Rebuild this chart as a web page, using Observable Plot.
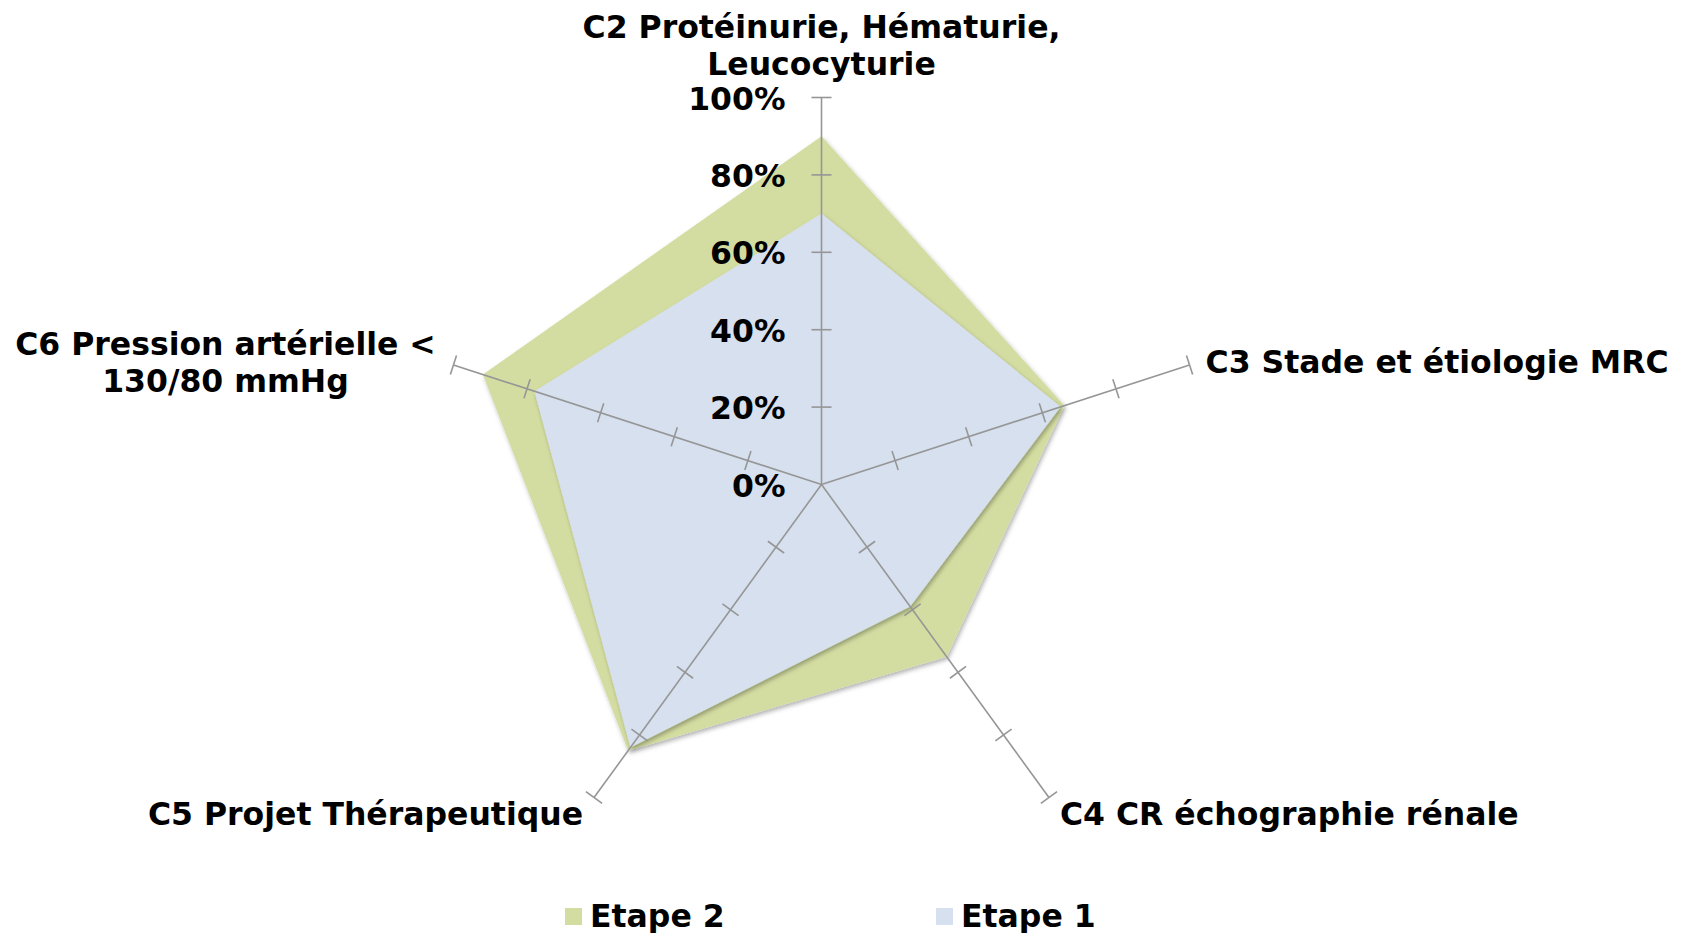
<!DOCTYPE html>
<html>
<head>
<meta charset="utf-8">
<script src="https://cdn.jsdelivr.net/npm/d3@7"></script>
<script src="https://cdn.jsdelivr.net/npm/@observablehq/plot@0.6"></script>
<style>
  html, body { margin: 0; padding: 0; background: #fff; }
  body { width: 1682px; height: 933px; overflow: hidden; font-family: "DejaVu Sans", Verdana, sans-serif; }
  #legend { position: relative; height: 63px; width: 1682px; font-weight: bold; font-size: 31.5px; color: #000; }
  .item { position: absolute; top: 28px; display: flex; align-items: center; }
  .sw { width: 17px; height: 17px; margin-right: 8px; }
</style>
</head>
<body>
<div id="chart"></div>
<div id="legend"></div>
<script>
// ---- data ----
const categories = [
  "C2 Protéinurie, Hématurie,\nLeucocyturie",
  "C3 Stade et étiologie MRC",
  "C4 CR échographie rénale",
  "C5 Projet Thérapeutique",
  "C6 Pression artérielle <\n130/80 mmHg"
];
const etape2 = [0.90, 0.66, 0.55, 0.85, 0.92];
const etape1 = [0.70, 0.65, 0.39, 0.84, 0.78];
const seriesNames = ["Etape 2", "Etape 1"];
const seriesColors = ["#d4dda1", "#d6e0ee"];
const tickValues = [0, 0.2, 0.4, 0.6, 0.8, 1.0];
const tickLabels = ["0%", "20%", "40%", "60%", "80%", "100%"];

// ---- layout / style ----
const W = 1682, H = 870;
const R = 387, CX = 821, CY = 484;
const FONT = "DejaVu Sans, Verdana, sans-serif";
const FS = 31.5;
const axisColor = "#969696";
const labelLayout = [
  {anchor: "middle", dx: 0, dy: -53},
  {anchor: "start", dx: 16, dy: -4},
  {anchor: "start", dx: 11, dy: 16},
  {anchor: "end", dx: -11, dy: 16},
  {anchor: "middle", dx: -228, dy: -3}
];

const n = categories.length;
const angle = i => (i * 2 * Math.PI) / n; // clockwise from top
const px = (i, v) => v * Math.sin(angle(i));
const py = (i, v) => v * Math.cos(angle(i));

const polys = [etape2, etape1].map((vals, s) =>
  vals.map((v, i) => ({series: seriesNames[s], i, v}))
);

const spokes = categories.map((c, i) => ({i}));
const ticks = [];
categories.forEach((c, i) => tickValues.slice(1).forEach(t => ticks.push({i, t})));
const half = 10 / R;

const labels = categories.map((c, i) => ({i, c}));
const tickText = tickValues.map((t, k) => ({t, label: tickLabels[k]}));

const plot = Plot.plot({
  width: W,
  height: H,
  margin: 0,
  x: {type: "linear", domain: [-CX / R, (W - CX) / R], range: [0, W], axis: null},
  y: {type: "linear", domain: [-(H - CY) / R, CY / R], range: [H, 0], axis: null},
  style: {fontFamily: FONT, background: "white"},
  marks: [
    ...polys.map((pts, s) => Plot.line(pts, {
      x: d => px(d.i, d.v),
      y: d => py(d.i, d.v),
      fill: seriesColors[s],
      stroke: "none",
      curve: "linear-closed"
    })),
    Plot.link(spokes, {
      x1: 0, y1: 0,
      x2: d => px(d.i, 1),
      y2: d => py(d.i, 1),
      stroke: axisColor, strokeWidth: 1.6
    }),
    Plot.link(ticks, {
      x1: d => px(d.i, d.t) + half * Math.cos(angle(d.i)),
      y1: d => py(d.i, d.t) - half * Math.sin(angle(d.i)),
      x2: d => px(d.i, d.t) - half * Math.cos(angle(d.i)),
      y2: d => py(d.i, d.t) + half * Math.sin(angle(d.i)),
      stroke: axisColor, strokeWidth: 1.6
    }),
    Plot.text(tickText, {
      x: 0, y: d => d.t, text: "label",
      textAnchor: "end", dx: -36, dy: 2,
      fontSize: FS, fontWeight: "bold", fill: "#000"
    }),
    ...labels.map(d => Plot.text([d], {
      x: e => px(e.i, 1), y: e => py(e.i, 1), text: "c",
      textAnchor: labelLayout[d.i].anchor,
      dx: labelLayout[d.i].dx, dy: labelLayout[d.i].dy,
      lineAnchor: "middle", lineHeight: 1.17,
      fontSize: FS, fontWeight: "bold", fill: "#000"
    }))
  ]
});

// drop shadow on the filled polygons
const svg = d3.select(plot);
const defs = svg.insert("defs", ":first-child");
const f = defs.append("filter").attr("id", "shadow")
  .attr("x", "-10%").attr("y", "-10%").attr("width", "120%").attr("height", "120%");
f.append("feDropShadow").attr("dx", 1.5).attr("dy", 2.5).attr("stdDeviation", 2)
  .attr("flood-color", "#000").attr("flood-opacity", 0.3);
svg.selectAll('g[aria-label="line"] path').attr("filter", "url(#shadow)");

document.getElementById("chart").appendChild(plot);

// legend
const legend = d3.select("#legend");
const legendX = [565, 936];
seriesNames.forEach((name, s) => {
  const it = legend.append("div").attr("class", "item").style("left", legendX[s] + "px");
  it.append("div").attr("class", "sw").style("background", seriesColors[s]);
  it.append("span").text(name);
});
</script>
</body>
</html>
